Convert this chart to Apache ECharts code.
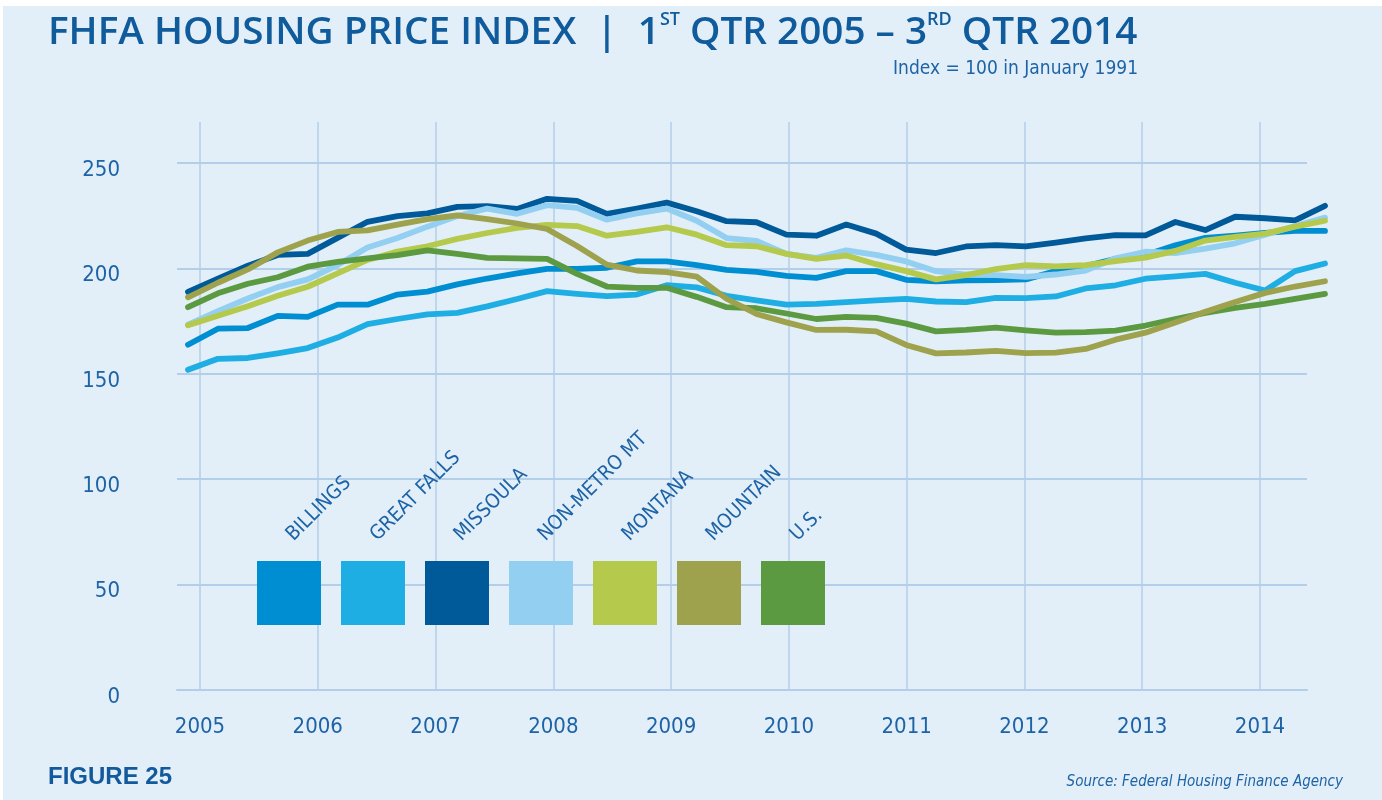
<!DOCTYPE html>
<html>
<head>
<meta charset="utf-8">
<title>FHFA Housing Price Index</title>
<script src="https://cdn.jsdelivr.net/npm/echarts@6/dist/echarts.min.js"></script>
<style>
    html, body { margin: 0; padding: 0; background: #fff; }
    #main { width: 1382px; height: 800px; }
</style>
</head>
<body>
<div id="main"></div>
<script>
    // quarterly index values, Q1 2005 .. Q3 2014 (index = 100 in Jan 1991)
    const quarters = [];
    for (let y = 2005; y <= 2014; y++) {
        for (let q = 1; q <= 4; q++) {
            if (y === 2014 && q === 4) break;
            quarters.push(y + ' Q' + q);
        }
    }
    const years = [2005, 2006, 2007, 2008, 2009, 2010, 2011, 2012, 2013, 2014];
    const yTicks = [0, 50, 100, 150, 200, 250];

    const names = ['BILLINGS', 'GREAT FALLS', 'MISSOULA', 'NON-METRO MT', 'MONTANA', 'MOUNTAIN', 'U.S.'];
    const colors = ['#008ed2', '#1eaee3', '#005a99', '#93cff1', '#b5c94c', '#9ea24c', '#5c9a41'];

    const billings = [163.8, 171.4, 171.7, 177.5, 177.0, 182.8, 182.8, 187.6, 189.0, 192.4,
        195.2, 197.6, 199.8, 199.8, 200.3, 203.3, 203.3, 201.5, 199.3, 198.4,
        196.5, 195.5, 198.7, 198.7, 194.6, 193.9, 194.3, 194.4, 194.8, 198.7,
        201.1, 204.5, 206.4, 211.0, 214.5, 215.5, 216.8, 217.8, 217.8];
    const greatFalls = [151.9, 157.1, 157.5, 159.7, 162.2, 167.2, 173.6, 176.0, 178.2, 178.9,
        182.0, 185.5, 189.2, 187.9, 186.8, 187.6, 192.0, 191.0, 187.0, 184.8,
        182.8, 183.2, 184.0, 184.8, 185.5, 184.3, 184.0, 186.0, 185.9, 186.7,
        190.5, 192.0, 195.1, 196.2, 197.4, 193.2, 189.5, 198.7, 202.3];
    const missoula = [188.9, 195.1, 201.3, 206.4, 206.9, 214.5, 222.1, 224.8, 226.1, 229.2,
        229.5, 228.2, 233.0, 232.0, 225.9, 228.4, 231.2, 227.1, 222.4, 221.9,
        216.0, 215.5, 220.8, 216.5, 208.9, 207.3, 210.4, 211.0, 210.4, 212.2,
        214.2, 215.8, 215.7, 222.0, 218.2, 224.5, 223.8, 222.8, 229.7];
    const nonMetro = [173.3, 179.7, 185.7, 191.1, 194.8, 201.6, 209.9, 214.4, 219.8, 224.8,
        228.4, 225.9, 230.0, 228.7, 223.1, 226.1, 228.4, 222.6, 214.4, 213.0,
        206.9, 205.0, 208.6, 206.4, 203.3, 198.7, 197.1, 196.8, 196.0, 197.1,
        199.0, 204.8, 207.9, 207.3, 209.4, 211.9, 216.0, 220.1, 224.1];
    const montana = [173.0, 177.5, 182.0, 187.0, 191.3, 197.6, 204.0, 208.0, 210.5, 214.0,
        216.8, 219.2, 220.6, 220.1, 215.5, 217.3, 219.5, 216.0, 211.0, 210.5,
        206.9, 204.5, 206.1, 202.0, 198.7, 194.8, 196.8, 199.7, 201.5, 201.0,
        201.5, 203.5, 205.1, 208.3, 213.2, 215.0, 216.5, 219.8, 222.6];
    const mountain = [186.3, 193.2, 199.5, 207.6, 213.2, 217.3, 218.0, 220.8, 223.4, 225.1,
        223.4, 221.3, 218.7, 210.6, 201.8, 199.0, 198.2, 196.1, 185.6, 178.4,
        174.4, 170.8, 170.9, 170.1, 163.7, 159.7, 160.1, 160.9, 159.8, 160.0,
        161.8, 166.2, 169.5, 174.3, 179.4, 184.1, 188.4, 191.4, 193.9];
    const us = [181.6, 188.2, 192.7, 195.8, 200.8, 203.1, 204.8, 206.3, 208.5, 206.9,
        205.0, 204.8, 204.5, 197.4, 191.4, 190.8, 190.8, 186.5, 181.6, 181.1,
        178.6, 176.0, 177.0, 176.5, 173.8, 170.1, 170.8, 171.9, 170.6, 169.5,
        169.8, 170.5, 172.9, 176.0, 178.9, 181.3, 183.2, 185.5, 187.9];

    const seriesValues = [billings, greatFalls, missoula, nonMetro, montana, mountain, us];

    const labelFont = "'Liberation Sans Narrow', 'DejaVu Sans Condensed', sans-serif";
    const textBlue = '#1d63a6';
    const gridColor = '#b3cee8';
    const yMax = 269.45;

    const myCharts = echarts.init(document.getElementById('main'));

    let legendItems = [];
    names.forEach((name, i) => {
        legendItems.push({
            type: 'rect',
            shape: {x: 257 + i * 84, y: 561, width: 64, height: 64},
            style: {fill: colors[i]},
            z: 10
        });
        legendItems.push({
            type: 'text',
            x: 297 + i * 84,
            y: 545,
            rotation: Math.PI / 4,
            style: {
                text: name,
                fill: textBlue,
                font: '20px ' + labelFont,
                textAlign: 'left',
                textVerticalAlign: 'bottom'
            },
            z: 10
        });
    });

    let options = {
        backgroundColor: '#ffffff',
        animation: false,
        title: [
            {
                left: 48,
                top: 11,
                padding: 0,
                text: '{m|FHFA HOUSING PRICE INDEX  |  1}{s|ST}{m| QTR 2005 – 3}{s|RD}{m| QTR 2014}',
                textStyle: {
                    rich: {
                        m: {fontSize: 38.7, fontWeight: 600, fontFamily: 'Open Sans', color: '#0f5b9b', lineHeight: 44},
                        s: {fontSize: 18, fontWeight: 600, fontFamily: 'Open Sans', color: '#0f5b9b', verticalAlign: 'top', lineHeight: 40}
                    }
                }
            },
            {
                right: 244,
                top: 60,
                padding: 0,
                text: 'Index = 100 in January 1991',
                textStyle: {fontSize: 19, fontWeight: 'normal', fontFamily: labelFont, color: textBlue}
            },
            {
                left: 48,
                top: 765,
                padding: 0,
                text: 'FIGURE 25',
                textStyle: {fontSize: 24, fontWeight: 'bold', fontFamily: 'Liberation Sans', color: '#125a9c'}
            },
            {
                right: 39,
                top: 775,
                padding: 0,
                text: 'Source: Federal Housing Finance Agency',
                textStyle: {fontSize: 15, fontWeight: 'normal', fontStyle: 'italic', fontFamily: labelFont, color: textBlue}
            }
        ],
        graphic: {
            elements: [
                {
                    type: 'rect',
                    shape: {x: 3, y: 6, width: 1379, height: 794},
                    style: {fill: '#e2eff9'},
                    z: -100,
                    silent: true
                }
            ].concat(legendItems)
        },
        grid: [
            // frame for grid lines and labels
            {left: 177, right: 75, top: 122, bottom: 110},
            // data area: first and last quarter sit just outside the year frame
            {left: 188, right: 57, top: 122, bottom: 110}
        ],
        xAxis: [
            {
                gridIndex: 1,
                type: 'value',
                min: 0,
                max: quarters.length - 1,
                show: false
            },
            {
                gridIndex: 0,
                type: 'value',
                min: 2004.805,
                max: 2014.399,
                axisLine: {show: true, lineStyle: {color: gridColor, width: 2}},
                axisTick: {show: false, customValues: years},
                axisLabel: {
                    customValues: years,
                    formatter: v => String(v),
                    color: textBlue,
                    fontSize: 22,
                    fontFamily: labelFont,
                    margin: 26
                },
                splitLine: {show: true, lineStyle: {color: gridColor, width: 1.5}}
            }
        ],
        yAxis: [
            {
                gridIndex: 0,
                type: 'value',
                min: 0,
                max: yMax,
                axisLine: {show: false},
                axisTick: {show: false, customValues: yTicks},
                axisLabel: {
                    customValues: yTicks,
                    color: textBlue,
                    fontSize: 22,
                    fontFamily: labelFont,
                    margin: 57,
                    verticalAlign: 'top',
                    lineHeight: 14
                },
                splitLine: {show: true, lineStyle: {color: gridColor, width: 2}}
            },
            {
                gridIndex: 1,
                type: 'value',
                min: 0,
                max: yMax,
                show: false,
                splitLine: {show: false}
            }
        ],
        series: names.map((name, i) => ({
            name: name,
            type: 'line',
            xAxisIndex: 0,
            yAxisIndex: 1,
            showSymbol: false,
            z: name === 'MOUNTAIN' ? 4 : 3,
            lineStyle: {width: 5.8, color: colors[i], cap: 'round', join: 'round'},
            itemStyle: {color: colors[i]},
            data: seriesValues[i].map((v, k) => [k, v])
        }))
    };
    myCharts.setOption(options);
</script>
</body>
</html>
